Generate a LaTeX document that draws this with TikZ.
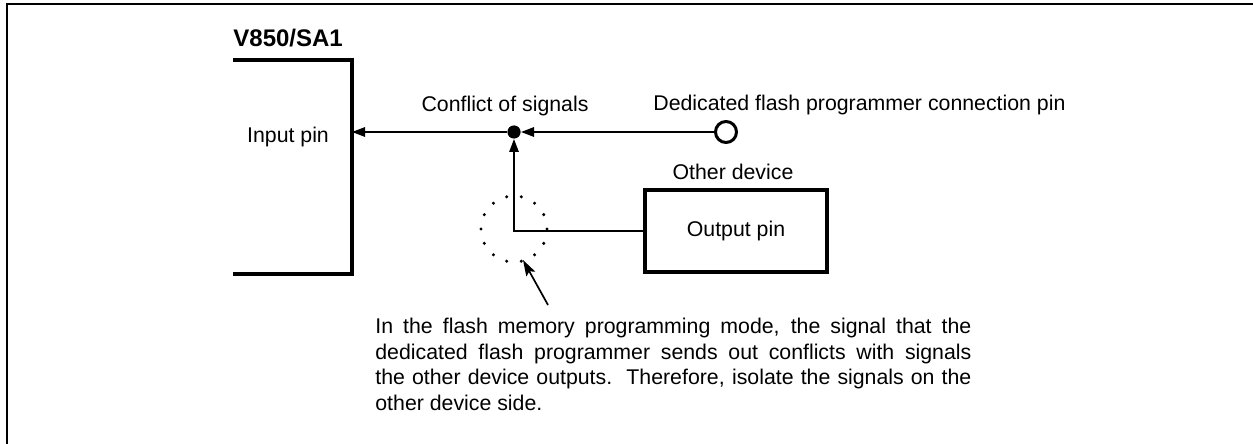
\documentclass[tikz,border=0pt]{standalone}
\usepackage{fontspec}
\setmainfont{Liberation Sans}
\usetikzlibrary{calc, arrows.meta, positioning}

\begin{document}
\begin{tikzpicture}[x=0.5pt, y=-0.5pt,
    font=\fontsize{10.65}{12.75}\selectfont,
    label/.style={inner sep=0pt},
    signal/.style={draw=lineColour, line width=0.85pt, -{Triangle[length=6.5pt, width=4.7pt]}},
    wire/.style={draw=lineColour, line width=0.85pt},
    outline/.style={draw=lineColour, line width=1.6pt},
    junction/.style={circle, fill=lineColour, inner sep=0pt, minimum size=6.6pt},
    pinCircle/.style={circle, draw=lineColour, fill=white, line width=1.5pt, inner sep=0pt, minimum size=10.5pt},
    pointer/.style={draw=lineColour, line width=0.85pt, -{Stealth[length=8pt, width=5pt, inset=1.5pt]}}]
    % Define colours
    \definecolor{lineColour}{HTML}{000000}

    % Define page size (in pixels)
    \def\pageWidth{1253}
    \def\pageHeight{444}
    \useasboundingbox (0,0) rectangle (\pageWidth,\pageHeight);

    % Draw frame, only top and left edges show
    \draw[line width=1.25pt] (\pageWidth,4) -- (7,4) -- (7,\pageHeight);

    % Define coordinates for the outline of the chip
    \coordinate (chipTL) at (233,60);
    \coordinate (chipTR) at (352,60);
    \coordinate (chipBR) at (352,274);
    \coordinate (chipBL) at (233,274);
    \coordinate (chipIn) at (352,132);

    % Draw the chip, open on the left
    \draw[outline] (chipTL) -- (chipTR) -- (chipBR) -- (chipBL);
    \node[label, anchor=west, font=\bfseries\fontsize{12}{14}\selectfont] (chipName) at (233,38) {V850/SA1};
    \node[label] (inputPin) at (288,137) {Input pin};

    % Junction, programmer pin and other device
    \node[junction] (junction) at (514,132) {};
    \node[pinCircle] (flashPin) at (726,132) {};
    \node[outline, minimum width=91pt, minimum height=41pt] (otherDev) at (736,231) {Output pin};

    % Labels
    \node[label] (conflictLabel) at (505,106) {Conflict of signals};
    \node[label, anchor=west] (pinLabel) at (653,105) {Dedicated flash programmer connection pin};
    \node[label] (otherDevName) at (733,172) {Other device};

    % Draw the signal lines
    \draw[signal] (flashPin) -- (junction);
    \draw[signal] (junction) -- (chipIn);
    \draw[signal] (otherDev.west) -- (otherDev.west -| junction) -- (junction);

    % Mark the side to isolate with a ring of dots
    \coordinate (isolate) at (514,229);
    \foreach \k in {0,...,13}
        \fill[lineColour] ($(isolate)+(\k*360/14:33)$) circle (0.85pt);

    % Note and its pointer
    \coordinate (noteTail) at (548,305);
    \coordinate (noteTip) at (523,260);
    \draw[pointer] (noteTail) -- (noteTip);
    \node[label, anchor=north west, text width=298pt, align=justify] (note) at (375,318)
        {In the flash memory programming mode, the signal that the\linebreak
        dedicated flash programmer sends out conflicts with signals\linebreak
        the other device outputs.\ \ Therefore, isolate the signals on the\linebreak
        other device side.};

\end{tikzpicture}
\end{document}
